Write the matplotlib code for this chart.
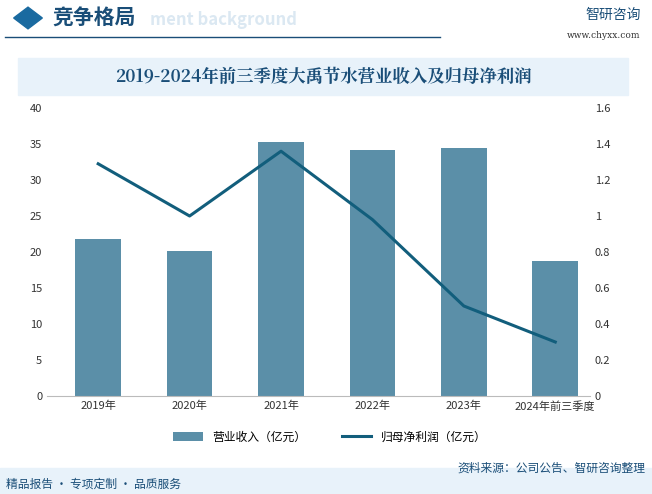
import matplotlib.pyplot as plt
from matplotlib.patches import Rectangle, RegularPolygon
import numpy as np

plt.rcParams['font.family'] = ['Noto Sans CJK SC', 'DejaVu Sans']

years = ['2019年', '2020年', '2021年', '2022年', '2023年', '2024年前三季度']
revenue = [21.8, 20.2, 35.3, 34.1, 34.5, 18.8]
net_profit = [1.29, 1.0, 1.36, 0.98, 0.5, 0.3]

W, H = 652, 494
fig = plt.figure(figsize=(W / 100, H / 100), dpi=100)

# header
fig.text(52 / W, 1 - 18 / H, '竞争格局', fontsize=15, color='#1a4e78', va='center', weight='bold')
fig.text(150 / W, 1 - 20 / H, 'ment background', fontsize=12, color='#dbe8f2', va='center', weight='bold')
fig.patches.append(RegularPolygon((28 / W, 1 - 18 / H), 4, radius=0.022, orientation=0,
                                  transform=fig.transFigure, color='#1a6aa0', figure=fig))
fig.lines.append(plt.Line2D([5 / W, 440 / W], [1 - 37 / H] * 2, transform=fig.transFigure, color='#1a4e78', lw=1))
fig.text(585 / W, 1 - 15 / H, '智研咨询', fontsize=10, color='#1a4e78', va='center')
fig.text(640 / W, 1 - 36 / H, 'www.chyxx.com', fontsize=6.5, color='#333333', va='center', ha='right', family='DejaVu Serif')

# title band
fig.patches.append(Rectangle((18 / W, 1 - 95 / H), 610 / W, 37 / H, transform=fig.transFigure,
                             color='#e8f2fa', zorder=0))
fig.text(323 / W, 1 - 77 / H, '2019-2024年前三季度大禹节水营业收入及归母净利润', fontsize=12.5,
         color='#1a4e78', va='center', ha='center', weight='bold', family=['Noto Serif CJK SC', 'Noto Sans CJK SC'])

# footer
fig.patches.append(Rectangle((0, 0), 1, 26 / H, transform=fig.transFigure, color='#e8f2fa', zorder=0))
fig.text(6 / W, 10 / H, '精品报告 · 专项定制 · 品质服务', fontsize=8.5, color='#1a4e78', va='center')
fig.text(645 / W, 26 / H, '资料来源：公司公告、智研咨询整理', fontsize=8.5, color='#1a4e78', va='center', ha='right')

ax = fig.add_axes([47 / W, 1 - 396 / H, 543 / W, 288 / H])
x = np.arange(len(years))
ax.bar(x, revenue, width=0.5, color='#5b8fa8', label='营业收入（亿元）')
ax.set_ylim(0, 40)
ax.set_yticks(range(0, 41, 5))
ax.set_xlim(-0.56, 5.38)
ax.set_xticks(x)
ax.set_xticklabels(years)
ax2 = ax.twinx()
ax2.plot(x, net_profit, color='#125e7c', lw=2.2, label='归母净利润（亿元）')
ax2.set_ylim(0, 1.6)
ax2.set_yticks(np.arange(0, 1.61, 0.2))
ax2.set_yticklabels(['0', '0.2', '0.4', '0.6', '0.8', '1', '1.2', '1.4', '1.6'])
for a in (ax, ax2):
    for s in a.spines.values():
        s.set_visible(False)
    a.tick_params(length=0, labelsize=8, colors='#333333')
ax.spines['bottom'].set_visible(True)
ax.spines['bottom'].set_color('#bbbbbb')

h1, l1 = ax.get_legend_handles_labels()
h2, l2 = ax2.get_legend_handles_labels()
fig.legend(h1 + h2, l1 + l2, loc='center', bbox_to_anchor=(330 / W, 1 - 437 / H), ncol=2,
           frameon=False, fontsize=8.5, handlelength=2.5, columnspacing=3)

fig.savefig('out.png', dpi=100)
